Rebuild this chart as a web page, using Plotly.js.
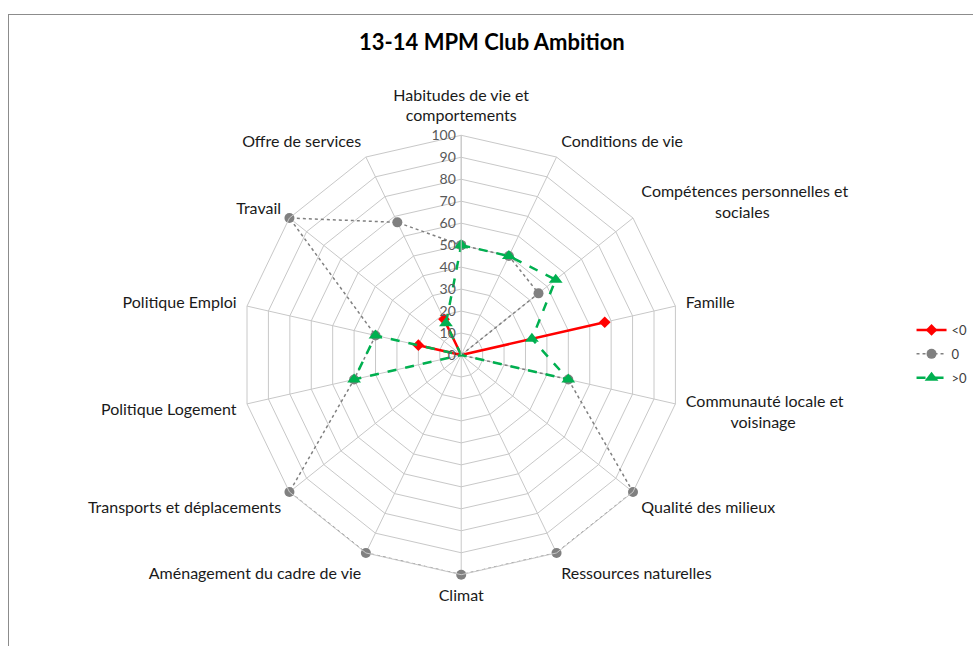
<!DOCTYPE html>
<html>
<head>
<meta charset="utf-8">
<script src="https://cdn.plot.ly/plotly-3.0.1.min.js"></script>
<style>
  html, body { margin: 0; padding: 0; background: #fff; }
  #chart { width: 973px; height: 646px; position: absolute; left: 0; top: 0; }
  #frame { position: absolute; left: 8px; top: 14px; width: 2000px; height: 2000px;
           border-left: 1.5px solid #8c8c8c; border-top: 1.5px solid #8c8c8c; pointer-events: none; }
</style>
</head>
<body>
<div id="chart"></div>
<div id="frame"></div>
<script>
const NB = '\u00A0';
const categories = [
  "Habitudes de vie et<br>comportements",
  "Conditions de vie",
  "Compétences personnelles et<br>" + NB.repeat(18) + "sociales",
  "Famille",
  "Communauté locale et<br>" + NB.repeat(11) + "voisinage",
  "Qualité des milieux",
  "Ressources naturelles",
  "Climat",
  "Aménagement du cadre de vie",
  "Transports et déplacements",
  "Politique Logement",
  "Politique Emploi",
  "Travail",
  "Offre de services"
];
const seriesNames = ["<0", "0", ">0"];
const negValues  = [0, 0, 0, 67, 0, 0, 0, 0, 0, 0, 0, 20, 0, 18];
const zeroValues = [50, 50, 45, 0, 50, 100, 100, 100, 100, 100, 50, 40, 100, 67];
const posValues  = [50, 50, 55, 33, 50, 0, 0, 0, 0, 0, 50, 40, 0, 16];
const radialTicks = [0, 10, 20, 30, 40, 50, 60, 70, 80, 90, 100];

function closed(arr) { return arr.concat([arr[0]]); }

const traces = [
  {
    type: 'scatterpolar', name: seriesNames[0], legendgroup: 'a',
    r: closed(negValues), theta: closed(categories),
    mode: 'lines+markers',
    line: { color: '#ff0000', width: 2.5 },
    marker: { symbol: 'diamond', size: 9, color: '#ff0000' }
  },
  {
    type: 'scatterpolar', name: seriesNames[1], legendgroup: 'b',
    r: closed(zeroValues), theta: closed(categories),
    mode: 'lines+markers',
    line: { color: '#808080', width: 1.5, dash: 'dot' },
    marker: { symbol: 'circle', size: 10, color: '#808080' }
  },
  {
    type: 'scatterpolar', name: seriesNames[2], legendgroup: 'c',
    r: closed(posValues), theta: closed(categories),
    mode: 'lines+markers',
    line: { color: '#00b050', width: 2.5, dash: 'dash' },
    marker: { symbol: 'triangle-up', size: 12, color: '#00b050' }
  }
];

const W = 973, H = 646;
const cx = 466, cy = 355, R = 222;

const layout = {
  width: W, height: H,
  margin: { l: 0, r: 0, t: 0, b: 0 },
  paper_bgcolor: '#ffffff',
  plot_bgcolor: '#ffffff',
  font: { family: 'Lato, "Open Sans", sans-serif', color: '#262626' },
  title: {
    text: '<b>13-14 MPM Club Ambition</b>',
    font: { size: 22, color: '#000000', family: 'Lato, "Open Sans", sans-serif' },
    x: 497 / W, xanchor: 'center', xref: 'paper',
    y: 1 - 42 / H, yanchor: 'middle', yref: 'container'
  },
  showlegend: true,
  legend: {
    x: 921 / W, xanchor: 'left',
    y: 1 - 354 / H, yanchor: 'middle',
    font: { size: 13, color: '#404040' },
    traceorder: 'grouped', tracegroupgap: 4,
    itemwidth: 30,
    bgcolor: 'rgba(0,0,0,0)'
  },
  polar: {
    domain: { x: [(cx - R) / W, (cx + R) / W], y: [1 - (cy + R) / H, 1 - (cy - R) / H] },
    bgcolor: '#ffffff',
    gridshape: 'linear',
    angularaxis: {
      type: 'category',
      categoryarray: categories,
      direction: 'clockwise',
      rotation: 90,
      showline: true, linecolor: '#c8c8c8', linewidth: 1,
      gridcolor: '#c8c8c8', gridwidth: 1,
      ticks: 'outside', ticklen: 7, tickcolor: 'rgba(0,0,0,0)',
      tickfont: { size: 16, color: '#1a1a1a' }
    },
    radialaxis: {
      range: [0, 100],
      tickvals: radialTicks,
      angle: 90,
      tickangle: 90,
      side: 'counterclockwise',
      showline: true, linecolor: '#c8c8c8', linewidth: 1,
      gridcolor: '#c8c8c8', gridwidth: 1,
      ticks: '',
      tickfont: { size: 14, color: '#595959' }
    }
  }
};

Plotly.newPlot('chart', traces, layout, { displayModeBar: false, staticPlot: true });
</script>
</body>
</html>
